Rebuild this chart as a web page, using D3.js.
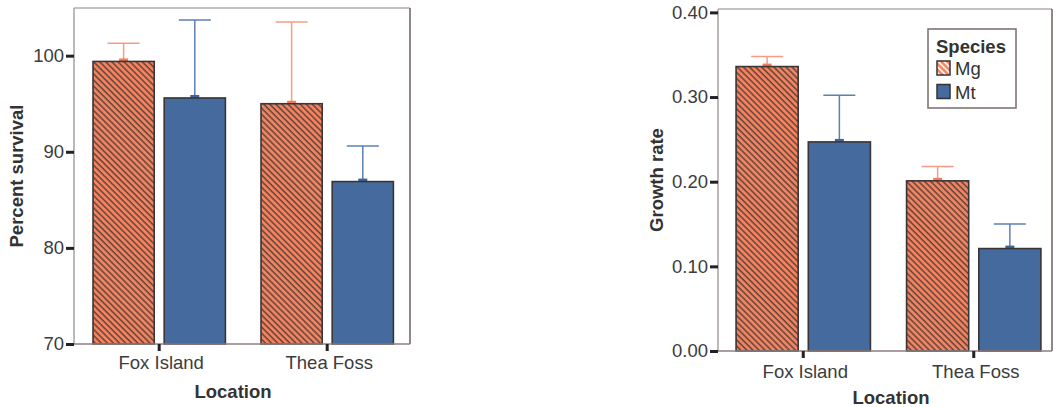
<!DOCTYPE html>
<html>
<head>
<meta charset="utf-8">
<script src="https://cdn.jsdelivr.net/npm/d3@7"></script>
<style>
  body { margin: 0; background: #fff; }
  svg { display: block; font-family: "Liberation Sans", Arial, sans-serif; }
</style>
</head>
<body>
<svg id="chart" width="1053" height="407"></svg>
<script>
const locations = ["Fox Island", "Thea Foss"];
const species = ["Mg", "Mt"];

// Percent survival (mean, upper error)
const survivalMg = [99.4, 95.0];
const survivalMt = [95.6, 86.9];
const survivalErrMg = [1.9, 8.5];
const survivalErrMt = [8.1, 3.7];
const survivalTicks = [70, 80, 90, 100];

// Growth rate (mean, upper error)
const growthMg = [0.336, 0.201];
const growthMt = [0.247, 0.121];
const growthErrMg = [0.012, 0.017];
const growthErrMt = [0.055, 0.029];
const growthTicks = [0, 0.1, 0.2, 0.3, 0.4];

const fillColor = {Mg: "url(#hatch)", Mt: "#456a9e"};
const errColor = {Mg: "#f59c86", Mt: "#5d80b4"};
const stubColor = {Mg: "#f47b5b", Mt: "#3f6499"};

const svg = d3.select("#chart");
const defs = svg.append("defs");

// bar hatch: dark stripes on salmon
const hatch = defs.append("pattern")
    .attr("id", "hatch")
    .attr("patternUnits", "userSpaceOnUse")
    .attr("width", 4.3).attr("height", 10)
    .attr("patternTransform", "rotate(-45)");
hatch.append("rect").attr("width", 4.3).attr("height", 10).attr("fill", "#f8835f");
hatch.append("line").attr("x1", 1).attr("x2", 1).attr("y1", 0).attr("y2", 10)
    .attr("stroke", "#62483f").attr("stroke-width", 1.6);

// legend hatch: white stripes on salmon
const hatchL = defs.append("pattern")
    .attr("id", "hatchLegend")
    .attr("patternUnits", "userSpaceOnUse")
    .attr("width", 4.2).attr("height", 10)
    .attr("patternTransform", "rotate(-45)");
hatchL.append("rect").attr("width", 4.2).attr("height", 10).attr("fill", "#f7825f");
hatchL.append("line").attr("x1", 1).attr("x2", 1).attr("y1", 0).attr("y2", 10)
    .attr("stroke", "#fff").attr("stroke-width", 1.6);

function drawPanel(p) {
    const g = svg.append("g");

    const x = d3.scaleBand()
        .domain(locations)
        .range([p.left + p.shift, p.right + p.shift])
        .paddingInner(0.212)
        .paddingOuter(0.106);

    const xs = d3.scaleBand()
        .domain(species)
        .range([0, x.bandwidth()])
        .paddingInner(0.14);

    const y = d3.scaleLinear()
        .domain(p.domain)
        .range([p.bottom, p.top]);

    // frame
    g.append("line").attr("x1", p.left).attr("x2", p.frameRight)
        .attr("y1", p.top).attr("y2", p.top)
        .attr("stroke", "#b3abab").attr("stroke-width", 1.5);
    g.append("line").attr("x1", p.frameRight).attr("x2", p.frameRight)
        .attr("y1", p.top).attr("y2", p.bottom)
        .attr("stroke", "#6e5f5f").attr("stroke-width", 1.5);
    g.append("line").attr("x1", p.left).attr("x2", p.left)
        .attr("y1", p.top).attr("y2", p.bottom)
        .attr("stroke", "#aaa1a1").attr("stroke-width", 1.5);

    const rows = [];
    locations.forEach((loc, i) => {
        species.forEach(sp => {
            rows.push({loc, sp, v: p.values[sp][i], e: p.errors[sp][i]});
        });
    });

    const cx = d => x(d.loc) + xs(d.sp) + xs.bandwidth() / 2;

    // error bars
    const eb = g.selectAll(".err").data(rows).enter().append("g");
    eb.append("line")
        .attr("x1", cx).attr("x2", cx)
        .attr("y1", d => y(d.v))
        .attr("y2", d => y(d.v + d.e))
        .attr("stroke", d => errColor[d.sp]).attr("stroke-width", 1.5);
    eb.append("line")
        .attr("x1", d => cx(d) - 16)
        .attr("x2", d => cx(d) + 16)
        .attr("y1", d => y(d.v + d.e))
        .attr("y2", d => y(d.v + d.e))
        .attr("stroke", d => errColor[d.sp]).attr("stroke-width", 1.5);
    eb.append("rect")
        .attr("x", d => cx(d) - 4.5)
        .attr("y", d => y(d.v) - 3)
        .attr("width", 9).attr("height", 3)
        .attr("fill", d => stubColor[d.sp]);

    // bars
    g.selectAll(".bar").data(rows).enter().append("rect")
        .attr("x", d => x(d.loc) + xs(d.sp))
        .attr("y", d => y(d.v))
        .attr("width", xs.bandwidth())
        .attr("height", d => y(p.domain[0]) - y(d.v))
        .attr("fill", d => fillColor[d.sp])
        .attr("stroke", "#3b3535").attr("stroke-width", 1.6);

    // bottom line
    g.append("line").attr("x1", p.left).attr("x2", p.frameRight)
        .attr("y1", p.bottom).attr("y2", p.bottom)
        .attr("stroke", "#8c7f7f").attr("stroke-width", 1.5);

    // y axis
    const ya = g.append("g")
        .attr("transform", `translate(${p.left},0)`)
        .call(d3.axisLeft(y).tickValues(p.ticks).tickFormat(p.fmt)
            .tickSize(8).tickPadding(2));
    ya.select(".domain").remove();
    ya.selectAll(".tick line").attr("stroke", "#222").attr("stroke-width", 3);
    ya.selectAll(".tick text").attr("fill", "#3c3c3c")
        .style("font-size", "18.5px");

    // x axis
    const xa = g.append("g")
        .attr("transform", `translate(0,${p.bottom})`)
        .call(d3.axisBottom(x).tickSize(7).tickPadding(p.xPad));
    xa.select(".domain").remove();
    xa.selectAll(".tick line").attr("stroke", "#222").attr("stroke-width", 3);
    xa.selectAll(".tick text").attr("fill", "#3c3c3c")
        .attr("dx", 2)
        .style("font-size", "18.5px");

    // axis titles
    g.append("text")
        .attr("x", p.xTitleX).attr("y", p.xTitleY)
        .attr("text-anchor", "middle")
        .attr("fill", "#333")
        .style("font-size", "18.5px").style("font-weight", "bold")
        .text("Location");
    g.append("text")
        .attr("transform", `translate(${p.yTitleX},${(p.top + p.bottom) / 2}) rotate(-90)`)
        .attr("text-anchor", "middle")
        .attr("fill", "#333")
        .style("font-size", "18.5px").style("font-weight", "bold")
        .text(p.yTitle);

    return g;
}

drawPanel({
    left: 74, right: 410, shift: 1.2, frameRight: 410, top: 8, bottom: 344,
    domain: [70, 104.96],
    ticks: survivalTicks, fmt: d3.format("d"),
    values: {Mg: survivalMg, Mt: survivalMt},
    errors: {Mg: survivalErrMg, Mt: survivalErrMt},
    xPad: 5, xTitleX: 233, xTitleY: 398,
    yTitleX: 23, yTitle: "Percent survival"
});

drawPanel({
    left: 718, right: 1059, shift: 0, frameRight: 1052, top: 9, bottom: 351,
    domain: [0, 0.404],
    ticks: growthTicks, fmt: d3.format(".2f"),
    values: {Mg: growthMg, Mt: growthMt},
    errors: {Mg: growthErrMg, Mt: growthErrMt},
    xPad: 7, xTitleX: 891, xTitleY: 404,
    yTitleX: 663, yTitle: "Growth rate"
});

// legend
const lg = svg.append("g").attr("transform", "translate(928,29)");
lg.append("rect").attr("width", 88).attr("height", 79)
    .attr("fill", "#fff").attr("stroke", "#7a6b6b").attr("stroke-width", 1.5);
lg.append("text").attr("x", 8).attr("y", 24)
    .attr("fill", "#333")
    .style("font-size", "18.5px").style("font-weight", "bold")
    .text("Species");
const legendFill = {Mg: "url(#hatchLegend)", Mt: "#456a9e"};
species.forEach((sp, i) => {
    lg.append("rect")
        .attr("x", 9).attr("y", 32 + i * 23.5)
        .attr("width", 13).attr("height", 14)
        .attr("fill", legendFill[sp])
        .attr("stroke", "#333").attr("stroke-width", 1.5);
    lg.append("text")
        .attr("x", 27).attr("y", 46 + i * 23.5)
        .attr("fill", "#333")
        .style("font-size", "18.5px")
        .text(sp);
});
</script>
</body>
</html>
